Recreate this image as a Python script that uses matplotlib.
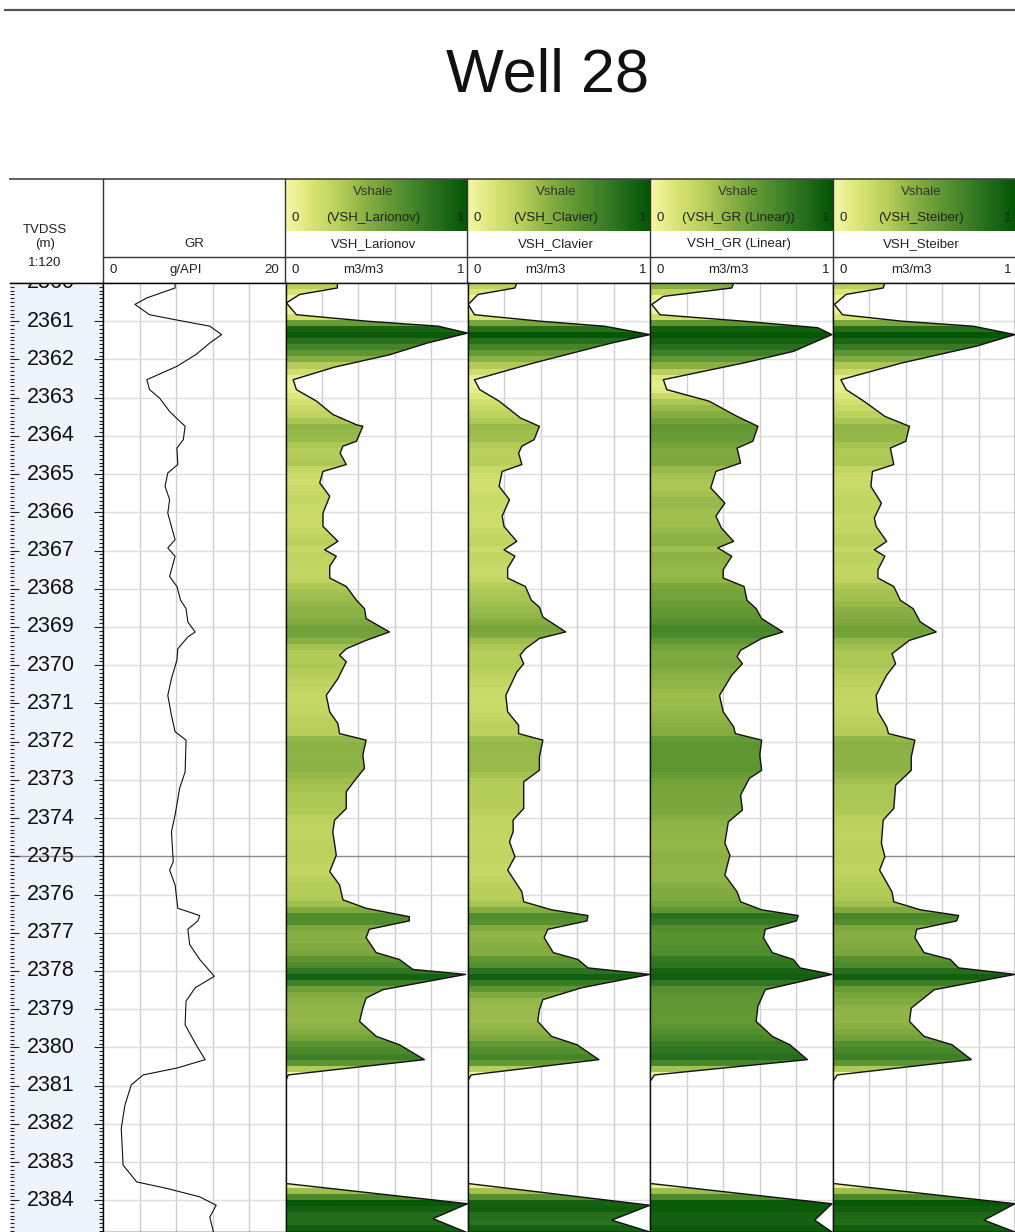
import numpy as np
import matplotlib
matplotlib.use("Agg")
import matplotlib.pyplot as plt
from matplotlib.colors import LinearSegmentedColormap
from matplotlib.patches import Polygon
from matplotlib.ticker import MultipleLocator
from matplotlib import font_manager as fm

# ---------------- data ----------------
title = "Well 28"
depth_top, depth_bottom = 2360.0, 2384.83
depth_label_values = list(range(2360, 2385))

gr_depth = [2360.00, 2360.13, 2360.39, 2360.56, 2360.83, 2360.96, 2361.13, 2361.35, 2361.57, 2361.87,
            2362.18, 2362.53, 2362.79, 2363.01, 2363.36, 2363.57, 2363.75, 2364.10, 2364.32, 2364.75,
            2364.97, 2365.32, 2365.67, 2366.02, 2366.72, 2366.93, 2367.15, 2367.68, 2367.94, 2368.30,
            2368.52, 2368.87, 2369.13, 2369.26, 2369.57, 2369.87, 2370.35, 2370.79, 2371.31, 2371.74,
            2371.96, 2372.79, 2373.22, 2373.92, 2374.36, 2375.14, 2375.36, 2375.75, 2376.36, 2376.55,
            2376.69, 2376.91, 2377.31, 2377.70, 2378.14, 2378.44, 2378.79, 2379.41, 2379.93, 2380.32,
            2380.54, 2380.72, 2380.98, 2381.51, 2382.12, 2383.08, 2383.52, 2383.69, 2383.91, 2384.13,
            2384.44, 2384.83]
gr_values = [7.9, 7.9, 4.8, 3.5, 5.1, 7.9, 11.7, 13.0, 11.7, 10.2,
             8.1, 4.8, 5.1, 6.2, 7.3, 8.2, 9.0, 8.8, 8.1, 8.2,
             7.1, 6.8, 7.3, 7.1, 7.9, 7.1, 7.9, 7.3, 8.1, 8.5,
             9.1, 9.3, 10.1, 9.3, 8.2, 8.1, 7.5, 7.1, 7.5, 7.9,
             9.1, 9.0, 8.4, 7.9, 7.5, 7.7, 7.3, 7.9, 8.2, 10.6,
             10.4, 9.3, 9.5, 10.6, 12.2, 10.1, 9.1, 9.0, 10.2, 11.2,
             8.1, 4.4, 3.1, 2.4, 2.0, 2.2, 3.7, 7.0, 10.6, 12.4,
             11.7, 12.1]

lar_depth = [2360.00, 2360.13, 2360.30, 2360.52, 2360.83, 2361.00, 2361.13, 2361.31, 2361.57, 2361.88,
             2362.20, 2362.53, 2362.79, 2363.09, 2363.44, 2363.71, 2363.75, 2364.14, 2364.27, 2364.45,
             2364.75, 2364.93, 2365.23, 2365.58, 2366.02, 2366.37, 2366.76, 2366.98, 2367.15, 2367.41,
             2367.72, 2367.94, 2368.30, 2368.52, 2368.78, 2369.13, 2369.35, 2369.57, 2369.74, 2369.91,
             2370.35, 2370.79, 2371.22, 2371.53, 2371.79, 2371.96, 2372.35, 2372.70, 2372.96, 2373.31,
             2373.75, 2374.05, 2374.36, 2374.97, 2375.40, 2375.75, 2376.14, 2376.36, 2376.58, 2376.69,
             2376.91, 2377.13, 2377.52, 2377.70, 2377.96, 2378.09, 2378.49, 2378.71, 2378.97, 2379.32,
             2379.71, 2379.93, 2380.32, 2380.72, 2380.89, 2383.56, 2384.09, 2384.48, 2384.83]
lar_values = [0.285, 0.285, 0.078, 0.005, 0.06, 0.45, 0.84, 1.0, 0.78, 0.57,
              0.27, 0.042, 0.06, 0.17, 0.26, 0.39, 0.425, 0.39, 0.315, 0.30,
              0.334, 0.206, 0.188, 0.243, 0.206, 0.206, 0.288, 0.215, 0.279, 0.243,
              0.243, 0.334, 0.39, 0.434, 0.443, 0.571, 0.443, 0.334, 0.297, 0.334,
              0.288, 0.224, 0.243, 0.288, 0.297, 0.443, 0.425, 0.434, 0.389, 0.334,
              0.334, 0.27, 0.26, 0.279, 0.243, 0.297, 0.316, 0.443, 0.68, 0.68,
              0.46, 0.443, 0.498, 0.626, 0.70, 0.99, 0.535, 0.443, 0.425, 0.407,
              0.498, 0.626, 0.763, 0.015, 0.0, 0.0, 1.0, 0.81, 0.99]

clv_depth = [2360.00, 2360.13, 2360.30, 2360.56, 2360.83, 2361.00, 2361.13, 2361.35, 2361.57, 2362.09,
             2362.53, 2362.79, 2363.09, 2363.53, 2363.75, 2364.10, 2364.27, 2364.45, 2364.75, 2364.93,
             2365.32, 2365.67, 2366.10, 2366.37, 2366.76, 2366.98, 2367.15, 2367.46, 2367.72, 2367.94,
             2368.30, 2368.48, 2368.74, 2369.13, 2369.30, 2369.57, 2369.74, 2369.96, 2370.18, 2370.79,
             2371.22, 2371.57, 2371.79, 2371.96, 2372.40, 2372.75, 2373.05, 2373.75, 2374.05, 2374.36,
             2374.62, 2375.01, 2375.36, 2375.93, 2376.19, 2376.40, 2376.55, 2376.69, 2376.91, 2377.13,
             2377.52, 2377.70, 2377.92, 2378.09, 2378.44, 2378.75, 2379.01, 2379.32, 2379.71, 2379.93,
             2380.32, 2380.72, 2380.89, 2383.56, 2384.13, 2384.52, 2384.83]
clv_values = [0.27, 0.26, 0.058, 0.004, 0.038, 0.40, 0.75, 1.0, 0.79, 0.365,
              0.038, 0.067, 0.173, 0.29, 0.394, 0.365, 0.298, 0.28, 0.298, 0.19,
              0.173, 0.23, 0.19, 0.20, 0.27, 0.20, 0.26, 0.22, 0.22, 0.317,
              0.35, 0.394, 0.413, 0.538, 0.394, 0.317, 0.288, 0.308, 0.27, 0.21,
              0.22, 0.28, 0.28, 0.413, 0.394, 0.394, 0.308, 0.308, 0.25, 0.25,
              0.23, 0.26, 0.22, 0.298, 0.308, 0.46, 0.66, 0.655, 0.44, 0.42,
              0.47, 0.605, 0.66, 1.0, 0.625, 0.413, 0.394, 0.385, 0.46, 0.60,
              0.72, 0.02, 0.0, 0.0, 1.0, 0.79, 1.0]

lin_depth = [2360.00, 2360.13, 2360.35, 2360.56, 2360.83, 2361.00, 2361.17, 2361.35, 2361.79, 2362.09,
             2362.53, 2362.79, 2363.09, 2363.49, 2363.75, 2364.14, 2364.32, 2364.71, 2364.93, 2365.36,
             2365.76, 2366.10, 2366.41, 2366.76, 2366.93, 2367.15, 2367.50, 2367.72, 2367.94, 2368.30,
             2368.52, 2368.78, 2369.13, 2369.30, 2369.61, 2369.78, 2369.96, 2370.26, 2370.79, 2371.22,
             2371.61, 2371.79, 2371.96, 2372.35, 2372.75, 2372.96, 2373.40, 2373.79, 2374.10, 2374.66,
             2374.97, 2375.49, 2375.93, 2376.19, 2376.40, 2376.55, 2376.69, 2376.91, 2377.13, 2377.52,
             2377.70, 2377.92, 2378.09, 2378.49, 2378.92, 2379.32, 2379.71, 2379.93, 2380.32, 2380.72,
             2380.89, 2383.56, 2384.09, 2384.52, 2384.83]
lin_values = [0.457, 0.447, 0.073, 0.01, 0.054, 0.514, 0.917, 0.994, 0.783, 0.514,
              0.073, 0.092, 0.322, 0.476, 0.59, 0.562, 0.476, 0.495, 0.36, 0.332,
              0.409, 0.36, 0.39, 0.457, 0.37, 0.447, 0.40, 0.40, 0.514, 0.53,
              0.58, 0.61, 0.726, 0.61, 0.495, 0.476, 0.505, 0.447, 0.38, 0.40,
              0.457, 0.466, 0.61, 0.60, 0.61, 0.543, 0.495, 0.505, 0.428, 0.409,
              0.437, 0.409, 0.476, 0.495, 0.61, 0.81, 0.80, 0.63, 0.62, 0.668,
              0.783, 0.82, 0.994, 0.63, 0.59, 0.58, 0.668, 0.764, 0.86, 0.025,
              0.0, 0.0, 0.994, 0.90, 0.994]

stb_depth = [2360.00, 2360.13, 2360.30, 2360.56, 2360.83, 2361.00, 2361.13, 2361.35, 2361.65, 2362.09,
             2362.53, 2362.79, 2363.09, 2363.49, 2363.75, 2364.14, 2364.32, 2364.75, 2364.93, 2365.32,
             2365.76, 2366.15, 2366.37, 2366.76, 2366.98, 2367.15, 2367.50, 2367.72, 2367.94, 2368.30,
             2368.52, 2368.87, 2369.13, 2369.35, 2369.70, 2369.96, 2370.26, 2370.79, 2371.22, 2371.61,
             2371.79, 2371.96, 2372.40, 2372.75, 2373.14, 2373.75, 2374.05, 2374.66, 2375.01, 2375.36,
             2375.93, 2376.19, 2376.40, 2376.55, 2376.69, 2376.91, 2377.13, 2377.52, 2377.70, 2377.92,
             2378.09, 2378.49, 2378.97, 2379.32, 2379.71, 2379.93, 2380.32, 2380.72, 2380.89, 2383.56,
             2384.09, 2384.52, 2384.83]
stb_values = [0.285, 0.276, 0.072, 0.008, 0.052, 0.38, 0.77, 1.0, 0.79, 0.38,
              0.043, 0.072, 0.169, 0.285, 0.42, 0.40, 0.315, 0.334, 0.217, 0.208,
              0.266, 0.227, 0.237, 0.295, 0.227, 0.285, 0.247, 0.247, 0.334, 0.37,
              0.44, 0.48, 0.567, 0.42, 0.324, 0.344, 0.295, 0.237, 0.247, 0.295,
              0.305, 0.45, 0.43, 0.43, 0.344, 0.334, 0.276, 0.266, 0.285, 0.256,
              0.324, 0.334, 0.48, 0.69, 0.68, 0.46, 0.45, 0.50, 0.645, 0.69,
              1.0, 0.557, 0.43, 0.42, 0.50, 0.654, 0.76, 0.023, 0.0, 0.0,
              1.0, 0.83, 1.0]

vsh_curve_names = ["VSH_Larionov", "VSH_Clavier", "VSH_GR (Linear)", "VSH_Steiber"]
vsh_depths = [lar_depth, clv_depth, lin_depth, stb_depth]
vsh_values = [lar_values, clv_values, lin_values, stb_values]

# ---------------- style / layout ----------------
W, H = 1015, 1232
names = {f.name for f in fm.fontManager.ttflist}
NARROW = "Liberation Sans Narrow" if "Liberation Sans Narrow" in names else "Liberation Sans"
BASE = "Liberation Sans"

cmap = LinearSegmentedColormap.from_list(
    "vsh", [(0.0, "#f6f8a6"), (0.15, "#d8e474"), (0.3, "#b6ce5a"), (0.45, "#88af43"),
            (0.6, "#5f9732"), (0.75, "#3a7e26"), (0.9, "#196515"), (1.0, "#045604")])

depth_x = (10, 103)
gr_x = (103, 285.5)
vsh_x = [(285.5, 467.5), (467.5, 650), (650, 833), (833, 1015)]
data_top_px = 283
hdr_rows = [179, 205, 231, 257, 283]

fig = plt.figure(figsize=(W / 100, H / 100), dpi=100)

ov = fig.add_axes([0, 0, 1, 1], zorder=0)
ov.set_axis_off()


def data_axes(x0, x1, z=1):
    return fig.add_axes([x0 / W, 0, (x1 - x0) / W, (H - data_top_px) / H], zorder=z)


GRID = "#cfcfcf"
HGRID = "#dedede"
MARK = "#8c8c8c"

# ---- depth track
axd = data_axes(*depth_x)
axd.set_facecolor("#eef4fb")
axd.set_xlim(0, 1)
axd.set_ylim(depth_bottom, depth_top)
axd.yaxis.set_major_locator(MultipleLocator(1))
axd.yaxis.set_minor_locator(MultipleLocator(0.1))
axd.tick_params(axis="y", which="both", direction="in", left=True, right=True,
                labelleft=False, color="#222222", width=0.8)
axd.tick_params(axis="y", which="major", length=6.5)
axd.tick_params(axis="y", which="minor", length=3.0)
axd.set_xticks([])
for s in ["left", "bottom"]:
    axd.spines[s].set_visible(False)
axd.spines["right"].set_linewidth(1.0)
axd.spines["top"].set_linewidth(1.0)
for d in depth_label_values:
    # the first label sits on the top edge and is mostly cut off, as in the reference
    if d == depth_label_values[0]:
        axd.text(0.44, d + 0.14, str(d), ha="center", va="baseline",
                 fontsize=17 if NARROW != BASE else 15.5, family=NARROW, color="#111111",
                 clip_on=True)
    else:
        axd.text(0.44, d, str(d), ha="center", va="center",
                 fontsize=17 if NARROW != BASE else 15.5, family=NARROW, color="#111111",
                 clip_on=True)
axd.axhline(2375, color=MARK, lw=1.0, zorder=0.5)

# ---- GR track
axg = data_axes(*gr_x)
axg.set_xlim(0, 20)
axg.set_ylim(depth_bottom, depth_top)
axg.set_xticks([])
axg.set_yticks([])
for gx in [4, 8, 12, 16]:
    axg.axvline(gx, color=GRID, lw=1.0, zorder=0.5)
for d in depth_label_values:
    axg.axhline(d, color=MARK if d == 2375 else HGRID, lw=1.0, zorder=0.6)
axg.plot(gr_values, gr_depth, color="#111111", lw=0.8, zorder=3)
for s in axg.spines.values():
    s.set_linewidth(1.0)

# ---- Vshale tracks
for (x0, x1), dep, val in zip(vsh_x, vsh_depths, vsh_values):
    ax = data_axes(x0, x1)
    dep = np.asarray(dep, float)
    val = np.asarray(val, float)
    for gx in [0.2, 0.4, 0.6, 0.8]:
        ax.axvline(gx, color=GRID, lw=1.0, zorder=0.5)
    for d in depth_label_values:
        ax.axhline(d, color=MARK if d == 2375 else HGRID, lw=1.0, zorder=0.6)
    step = 0.16
    rows = np.arange(depth_top, depth_bottom, step)
    cvals = np.interp(rows + step / 2, dep, val)
    img = cmap(cvals)[:, None, :]
    im = ax.imshow(img, extent=(0, 1, rows[-1] + step, rows[0]), aspect="auto",
                   interpolation="nearest", zorder=2)
    poly = Polygon(np.column_stack([np.r_[0, val, 0], np.r_[dep[0], dep, dep[-1]]]),
                   closed=True, facecolor="none", edgecolor="none", transform=ax.transData)
    ax.add_patch(poly)
    im.set_clip_path(poly)
    ax.plot(val, dep, color="#111111", lw=1.0, zorder=3)
    ax.set_xlim(0, 1)
    ax.set_ylim(depth_bottom, depth_top)
    ax.set_xticks([])
    ax.set_yticks([])
    for s in ax.spines.values():
        s.set_linewidth(1.0)
        s.set_color("#111111")
        s.set_zorder(4)

# ---------------- header ----------------
grad = np.linspace(0, 1, 256)[None, :]
FS = 9.5
TXT = "#222222"
for (x0, x1), nm in zip(vsh_x, vsh_curve_names):
    ov.imshow(grad, cmap=cmap, extent=(x0, x1, hdr_rows[1], hdr_rows[0]), aspect="auto")
    ov.imshow(grad, cmap=cmap, extent=(x0, x1, hdr_rows[2], hdr_rows[1]), aspect="auto")
    cx = (x0 + x1) / 2 - 3
    r1 = (hdr_rows[0] + hdr_rows[1]) / 2
    r2 = (hdr_rows[1] + hdr_rows[2]) / 2
    r3 = (hdr_rows[2] + hdr_rows[3]) / 2
    r4 = (hdr_rows[3] + hdr_rows[4]) / 2
    ov.text(cx, r1, "Vshale", ha="center", va="center", fontsize=FS, family=BASE, color="#333333")
    ov.text(x0 + 10, r2, "0", ha="center", va="center", fontsize=FS, family=BASE, color=TXT)
    ov.text(cx, r2, "(" + nm + ")", ha="center", va="center", fontsize=FS, family=BASE, color=TXT)
    ov.text(x1 - 7, r2, "1", ha="center", va="center", fontsize=FS, family=BASE, color=TXT)
    ov.text(cx, r3, nm, ha="center", va="center", fontsize=FS, family=BASE, color=TXT)
    ov.text(x0 + 10, r4, "0", ha="center", va="center", fontsize=FS, family=BASE, color=TXT)
    ov.text(cx - 10, r4, "m3/m3", ha="center", va="center", fontsize=FS, family=BASE, color=TXT)
    ov.text(x1 - 7, r4, "1", ha="center", va="center", fontsize=FS, family=BASE, color=TXT)

gx0, gx1 = gr_x
r3 = (hdr_rows[2] + hdr_rows[3]) / 2
r4 = (hdr_rows[3] + hdr_rows[4]) / 2
ov.text((gx0 + gx1) / 2, r3, "GR", ha="center", va="center", fontsize=FS, family=BASE, color=TXT)
ov.text(gx0 + 10, r4, "0", ha="center", va="center", fontsize=FS, family=BASE, color=TXT)
ov.text((gx0 + gx1) / 2 - 8, r4, "g/API", ha="center", va="center", fontsize=FS, family=BASE, color=TXT)
ov.text(gx1 - 6, r4, "20", ha="right", va="center", fontsize=FS, family=BASE, color=TXT)

dcx = 45
ov.text(dcx, 230, "TVDSS", ha="center", va="center", fontsize=FS, family=BASE, color=TXT)
ov.text(dcx, 244, "(m)", ha="center", va="center", fontsize=FS, family=BASE, color=TXT)
ov.text(dcx, 263, "1:120", ha="center", va="center", fontsize=FS, family=BASE, color=TXT)

# header lines
ov.plot([5, W], [10, 10], color="#555555", lw=1.6)
ov.plot([10, W], [hdr_rows[0], hdr_rows[0]], color="#444444", lw=1.2)
ov.plot([gx0, W], [hdr_rows[3], hdr_rows[3]], color="#333333", lw=1.0)
ov.plot([10, W], [hdr_rows[4], hdr_rows[4]], color="#333333", lw=1.0)
for xb in [gx0, gx1] + [x1 for (_, x1) in vsh_x[:-1]]:
    ov.plot([xb, xb], [hdr_rows[0], hdr_rows[4]], color="#333333", lw=1.0)

ov.text(548, 76, title, ha="center", va="center", fontsize=49 if NARROW != BASE else 44,
        family=NARROW, color="#111111")

ov.set_xlim(0, W)
ov.set_ylim(H, 0)

fig.savefig("out.png", dpi=100)
